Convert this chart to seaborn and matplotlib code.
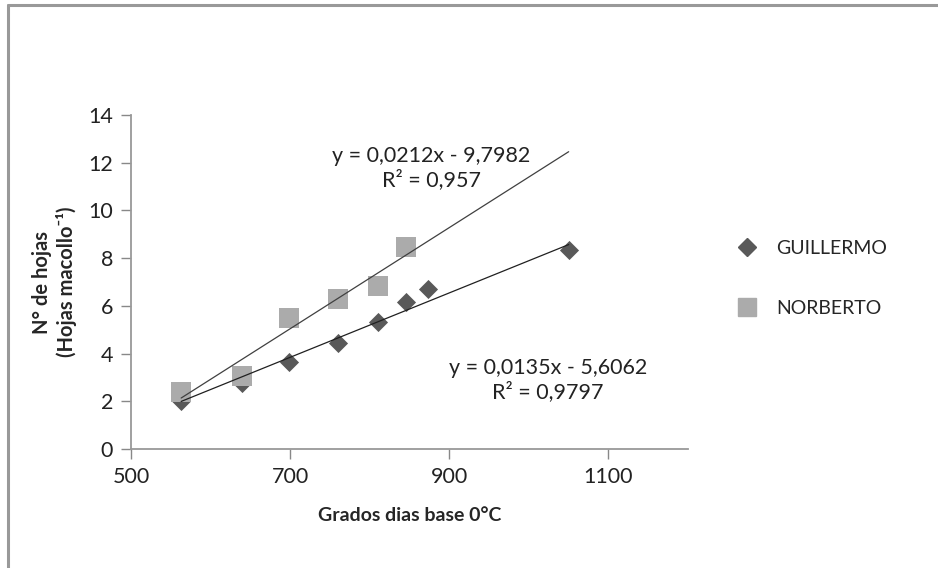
import numpy as np
import pandas as pd
import seaborn as sns
import matplotlib.pyplot as plt
from matplotlib.lines import Line2D

# datos
x_guillermo = [563, 639, 698, 760, 810, 845, 873, 1050]
y_guillermo = [2.0, 2.75, 3.65, 4.44, 5.32, 6.16, 6.71, 8.34]
x_norberto = [563, 639, 698, 760, 810, 845]
y_norberto = [2.39, 3.06, 5.5, 6.29, 6.85, 8.47]

# lineas de tendencia (pendiente, ordenada)
coef_guillermo = [0.0135, -5.6062]
coef_norberto = [0.0212, -9.7982]
trend_x = [563, 1050]

eq_guillermo = "y = 0,0135x - 5,6062\nR² = 0,9797"
eq_norberto = "y = 0,0212x - 9,7982\nR² = 0,957"

x_ticks = [500, 700, 900, 1100]
y_ticks = [0, 2, 4, 6, 8, 10, 12, 14]

sns.set_style("white")
plt.rcParams['font.family'] = ['Lato', 'DejaVu Sans']

df = pd.concat([
    pd.DataFrame({"gd": x_guillermo, "hojas": y_guillermo, "nombre": "GUILLERMO"}),
    pd.DataFrame({"gd": x_norberto, "hojas": y_norberto, "nombre": "NORBERTO"}),
])

colores = {"GUILLERMO": "#595959", "NORBERTO": "#ababab"}
marcas = {"GUILLERMO": "D", "NORBERTO": "s"}
tamanos = {"GUILLERMO": 95, "NORBERTO": 220}

fig = plt.figure(figsize=(9.38, 5.68), dpi=100)
ax = fig.add_axes([0.1397, 0.2095, 0.5938, 0.588])

for nombre, sub in df.groupby("nombre"):
    sns.scatterplot(data=sub, x="gd", y="hojas", color=colores[nombre],
                    marker=marcas[nombre], s=tamanos[nombre], linewidth=0,
                    ax=ax, legend=False, zorder=2)

tx = np.array(trend_x)
ax.plot(tx, coef_norberto[0] * tx + coef_norberto[1], color="#404040", lw=0.9, zorder=3)
ax.plot(tx, coef_guillermo[0] * tx + coef_guillermo[1], color="#202020", lw=0.9, zorder=3)

ax.text(877, 11.78, eq_norberto, ha="center", va="center", fontsize=15.5,
        linespacing=1.22, color="#222222")
ax.text(1024, 2.9, eq_guillermo, ha="center", va="center", fontsize=15.5,
        linespacing=1.22, color="#222222")

ax.set_xlim(500, 1200)
ax.set_ylim(0, 14)
ax.set_xticks(x_ticks)
ax.set_yticks(y_ticks)
ax.tick_params(axis="both", labelsize=15.5, colors="#888888", labelcolor="#222222",
               direction="out", length=7, width=1, left=True, bottom=True, pad=6)
for lado in ["top", "right"]:
    ax.spines[lado].set_visible(False)
for lado in ["left", "bottom"]:
    ax.spines[lado].set_color("#999999")
    ax.spines[lado].set_linewidth(1.3)

ax.set_xlabel("Grados dias base 0°C", fontsize=14, fontweight="bold", labelpad=14)
ax.set_ylabel("N° de hojas\n(Hojas macollo⁻¹)", fontsize=14.5, fontweight="bold",
              labelpad=8, linespacing=1.25)

handles = [
    Line2D([], [], marker="D", color="#595959", linestyle="", markersize=9),
    Line2D([], [], marker="s", color="#ababab", linestyle="", markersize=13),
]
fig.legend(handles, ["GUILLERMO", "NORBERTO"], loc="center left",
           bbox_to_anchor=(0.765, 0.51), frameon=False, fontsize=14,
           labelspacing=2.2, handletextpad=0.9, handlelength=1.2)

# borde exterior del grafico
fig.add_artist(Line2D([0.0085, 0.0085], [0, 0.991], color="#999999", lw=2.2))
fig.add_artist(Line2D([0.0085, 1], [0.991, 0.991], color="#999999", lw=2.2))

fig.savefig("out.png", dpi=100)
